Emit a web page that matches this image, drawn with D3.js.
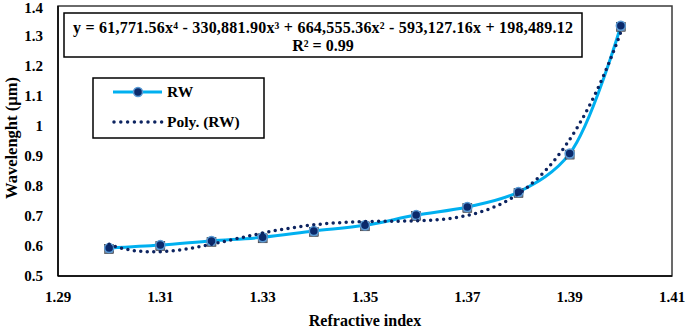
<!DOCTYPE html>
<html><head><meta charset="utf-8">
<script src="https://cdn.jsdelivr.net/npm/d3@7"></script>
<style>body{margin:0;background:#fff}svg{display:block}svg text{font-family:"Times New Roman","Liberation Serif",Tinos,"DejaVu Serif",serif !important;font-weight:700}</style>
</head><body><svg id="c" width="685" height="329"></svg>
<script>
const refractiveIndex = [1.30,1.31,1.32,1.33,1.34,1.35,1.36,1.37,1.38,1.39,1.40];
const wavelength = [0.593,0.603,0.617,0.629,0.650,0.669,0.703,0.730,0.780,0.908,1.334];
const xTicks = [1.29,1.31,1.33,1.35,1.37,1.39,1.41];
const yTicks = [0.5,0.6,0.7,0.8,0.9,1,1.1,1.2,1.3,1.4];
const equationText = "y = 61,771.56x\u2074 - 330,881.90x\u00B3 + 664,555.36x\u00B2 - 593,127.16x + 198,489.12";
const r2Text = "R\u00B2 = 0.99";
const legendLabels = ["RW","Poly. (RW)"];

const svg = d3.select("#c");
const L=58,R=672,T=6,B=276;
const x = d3.scaleLinear().domain([1.29,1.41]).range([L,R]);
const y = d3.scaleLinear().domain([0.5,1.4]).range([B,T]);

function polyfit(xs,ys,deg){
  const n=deg+1, A=[...Array(n)].map(()=>Array(n+1).fill(0));
  xs.forEach((xv,k)=>{const t=(xv-1.35)*100;
    for(let i=0;i<n;i++){for(let j=0;j<n;j++)A[i][j]+=Math.pow(t,i+j);A[i][n]+=ys[k]*Math.pow(t,i);}});
  for(let i=0;i<n;i++){let p=i;for(let r=i+1;r<n;r++)if(Math.abs(A[r][i])>Math.abs(A[p][i]))p=r;[A[i],A[p]]=[A[p],A[i]];
    for(let r=0;r<n;r++){if(r===i)continue;const f=A[r][i]/A[i][i];for(let c=i;c<=n;c++)A[r][c]-=f*A[i][c];}}
  return A.map((row,i)=>row[n]/row[i]);
}
const coef = polyfit(refractiveIndex,wavelength,4);
const fx = xv=>{const t=(xv-1.35)*100;return coef.reduce((s,c,i)=>s+c*Math.pow(t,i),0);};
const trend = d3.range(0,201).map(i=>{const xv=1.30+i*0.0005;return [xv,fx(xv)];});

const g = svg.append("g");
g.selectAll(".yt").data(yTicks).join("text").attr("x",43).attr("y",d=>Math.max(y(d),8)).attr("dy","0.35em")
  .attr("text-anchor","end").attr("font-size",15).text(d=>d3.format("")(d));
g.selectAll(".xt").data(xTicks).join("text").attr("x",d=>x(d)).attr("y",297).attr("dy","0.35em")
  .attr("text-anchor","middle").attr("font-size",15).text(d=>d3.format(".2f")(d));
svg.append("text").attr("x",365).attr("y",320).attr("dy","0.35em").attr("text-anchor","middle").attr("font-size",16).text("Refractive index");
svg.append("text").attr("transform","translate(11,138) rotate(-90)").attr("dy","0.35em").attr("text-anchor","middle").attr("font-size",16.5).text("Wavelenght (\u00B5m)");

svg.append("rect").attr("x",L).attr("y",T).attr("width",R-L).attr("height",B-T).attr("fill","none").attr("stroke","#3a3a3a").attr("stroke-width",1.5);
svg.append("line").attr("x1",L).attr("x2",R).attr("y1",B).attr("y2",B).attr("stroke","#000").attr("stroke-width",1.5);
svg.append("line").attr("x1",L).attr("x2",L).attr("y1",T).attr("y2",B).attr("stroke","#000").attr("stroke-width",1.5);

const pts = refractiveIndex.map((v,i)=>[v,wavelength[i]]);
svg.append("path").datum(pts).attr("fill","none").attr("stroke","#00b0f0").attr("stroke-width",3)
  .attr("d",d3.line().x(d=>x(d[0])).y(d=>y(d[1])).curve(d3.curveCatmullRom.alpha(0.5)));
svg.selectAll(".sq").data(pts).join("rect").attr("x",d=>x(d[0])-4.5).attr("y",d=>y(d[1])-3.5).attr("width",9).attr("height",9)
  .attr("fill","#6f7f99").attr("stroke","#222").attr("stroke-width",0.5);
svg.selectAll(".ci").data(pts).join("circle").attr("cx",d=>x(d[0])).attr("cy",d=>y(d[1])).attr("r",4.5)
  .attr("fill","#0b2a6b").attr("stroke","#5b9bd5").attr("stroke-width",1.5);
svg.append("path").datum(trend).attr("fill","none").attr("stroke","#0d2460").attr("stroke-width",3.5)
  .attr("stroke-linecap","round").attr("stroke-dasharray","0 6.5")
  .attr("d",d3.line().x(d=>x(d[0])).y(d=>y(d[1])));

svg.append("rect").attr("x",64).attr("y",13).attr("width",518).attr("height",44).attr("fill","#fff").attr("stroke","#000").attr("stroke-width",1.5);
svg.append("text").attr("x",323).attr("y",27).attr("dy","0.35em").attr("text-anchor","middle").attr("font-size",16)
  .attr("textLength",500).attr("lengthAdjust","spacing").text(equationText);
svg.append("text").attr("x",323).attr("y",45).attr("dy","0.35em").attr("text-anchor","middle").attr("font-size",16).text(r2Text);

svg.append("rect").attr("x",93).attr("y",78).attr("width",171).attr("height",60).attr("fill","#fff").attr("stroke","#000").attr("stroke-width",1.5);
svg.append("line").attr("x1",113).attr("x2",162).attr("y1",92).attr("y2",92).attr("stroke","#00b0f0").attr("stroke-width",3);
svg.append("circle").attr("cx",138).attr("cy",92).attr("r",4.5).attr("fill","#0b2a6b").attr("stroke","#5b9bd5").attr("stroke-width",1.5);
svg.append("line").attr("x1",114).attr("x2",162).attr("y1",122).attr("y2",122).attr("stroke","#0d2460").attr("stroke-width",3.5)
  .attr("stroke-linecap","round").attr("stroke-dasharray","0 6.8");
svg.selectAll(".lg").data(legendLabels).join("text").attr("x",167).attr("y",(d,i)=>92+i*30).attr("dy","0.35em").attr("font-size",15.5).text(d=>d);
</script></body></html>
